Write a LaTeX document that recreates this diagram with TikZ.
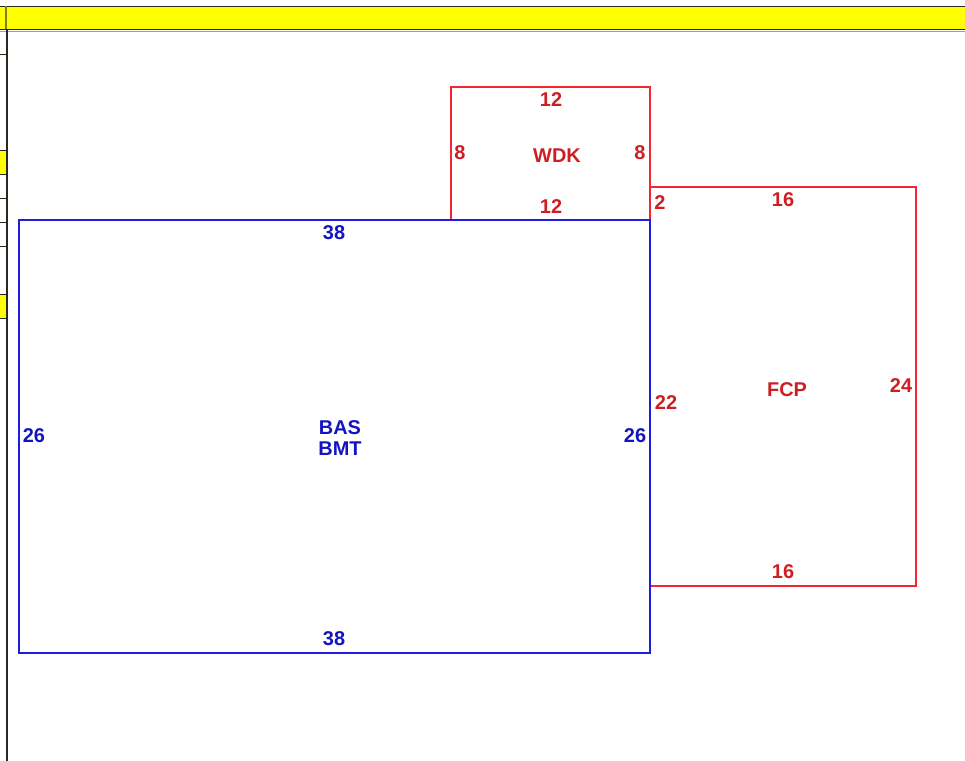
\documentclass[tikz,border=0pt]{standalone}
\usepackage{fontspec}
\setmainfont{Liberation Sans}
\definecolor{labelred}{RGB}{205,30,35}
\definecolor{linered}{RGB}{240,40,45}
\definecolor{labelblue}{RGB}{20,20,190}
\definecolor{lineblue}{RGB}{30,30,225}
\definecolor{yellowfill}{RGB}{255,255,0}
\definecolor{framecol}{RGB}{40,40,30}
\tikzset{
  x=1bp,y=-1bp,
  redbox/.style={draw=linered,line width=1.7bp},
  bluebox/.style={draw=lineblue,line width=1.7bp},
  rlab/.style={text=labelred,font=\bfseries\fontsize{20}{20}\selectfont,inner sep=0pt,anchor=center},
  blab/.style={text=labelblue,font=\bfseries\fontsize{20}{22}\selectfont,inner sep=0pt,anchor=center,align=center},
  frameline/.style={draw=framecol,line width=1.6bp}
}
\begin{document}
\begin{tikzpicture}
\useasboundingbox (0,0) rectangle (965,761);
% header and left strip
\fill[yellowfill] (0,6) rectangle (965,30);
\fill[yellowfill] (0,150) rectangle (6,174);
\fill[yellowfill] (0,294) rectangle (6,318);
\draw[frameline] (0,6.5) -- (965,6.5);
\draw[frameline] (0,29.5) -- (965,29.5);
\draw[draw=framecol!45,line width=1bp] (0,31.5) -- (965,31.5);
\draw[draw=framecol!60!yellowfill,line width=1.8bp] (6,6) -- (6,29);
\draw[frameline,line width=2bp] (6.5,30) -- (6.5,761);
\foreach \yy in {54,150,174,198,222,246,294,318}
  \draw[frameline,line width=1.3bp] (0,\yy.5) -- (6,\yy.5);
% boxes
\coordinate (w1) at (451,87);
\coordinate (w2) at (650,87);
\coordinate (w3) at (650,220);
\coordinate (w4) at (451,220);
\draw[redbox] (w4) -- (w1) -- (w2) -- (w3);
\coordinate (f1) at (650,187);
\coordinate (f2) at (916,187);
\coordinate (f3) at (916,586);
\coordinate (f4) at (650,586);
\draw[redbox] (f1) -- (f2) -- (f3) -- (f4);
\coordinate (b1) at (19,220);
\coordinate (b2) at (650,220);
\coordinate (b3) at (650,653);
\coordinate (b4) at (19,653);
\draw[bluebox] (b1) -- (b2) -- (b3) -- (b4) -- cycle;
% WDK labels
\node[rlab] (wt) at (551,100) {12};
\node[rlab] (wl) at (460,153) {8};
\node[rlab] (wr) at (640,153) {8};
\node[rlab] (wn) at (557,156) {WDK};
\node[rlab] (wb) at (551,206.5) {12};
% FCP labels
\node[rlab] (f2l) at (660,203) {2};
\node[rlab] (ft) at (783,200) {16};
\node[rlab] (fl) at (666,403) {22};
\node[rlab] (fn) at (787,390) {FCP};
\node[rlab] (fr) at (901,386) {24};
\node[rlab] (fb) at (783,572) {16};
% BAS labels
\node[blab] (bt) at (334,233) {38};
\node[blab] (bl) at (34,436) {26};
\node[blab] (br) at (635,436) {26};
\node[blab] (bn) at (340,438) {BAS\\BMT};
\node[blab] (bb) at (334,639) {38};
\end{tikzpicture}
\end{document}
